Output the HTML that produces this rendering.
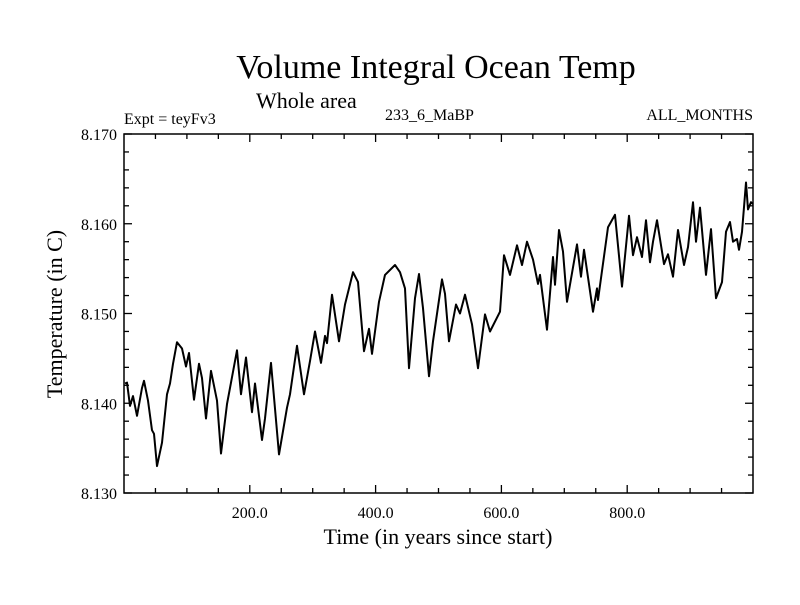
<!DOCTYPE html>
<html><head><meta charset="utf-8"><style>
html,body{margin:0;padding:0;background:#fff;}
svg text{font-family:"Liberation Serif",serif;fill:#000;}
</style></head><body>
<svg id="chart" width="800" height="600" xmlns="http://www.w3.org/2000/svg">
<text x="436" y="78" font-size="34" text-anchor="middle">Volume Integral Ocean Temp</text>
<text x="256" y="108" font-size="22">Whole area</text>
<text x="124" y="124" font-size="16">Expt = teyFv3</text>
<text x="385" y="120" font-size="16">233_6_MaBP</text>
<text x="753" y="120" font-size="16" text-anchor="end">ALL_MONTHS</text>
<text x="438" y="544" font-size="22" text-anchor="middle">Time (in years since start)</text>
<text transform="translate(62,314) rotate(-90)" font-size="22" text-anchor="middle">Temperature (in C)</text>
<g id="axes"></g>
<path id="series" fill="none" stroke="#000" stroke-width="2" stroke-linejoin="round"/>
</svg>
<script>
const years=[1.6,4.8,9.5,14.3,20.7,28.6,31.8,38.2,44.5,47.7,52.5,60.4,68.4,73.1,77.9,84.3,92.2,98.6,103.3,111.3,119.2,124.0,130.4,138.3,147.9,154.2,163.7,179.6,186.0,194.0,203.5,208.3,219.4,224.2,233.7,246.4,259.1,263.9,275.0,286.2,295.7,303.7,313.2,319.5,322.7,330.7,341.8,351.3,364.1,372.0,381.6,389.5,394.3,405.4,414.9,430.8,438.8,446.7,453.1,462.6,469.0,475.4,484.9,491.3,505.6,510.3,516.7,527.8,534.2,542.1,553.3,562.8,573.9,581.9,597.8,604.1,613.7,624.8,632.7,640.7,650.2,658.2,661.3,672.5,682.0,685.2,691.6,697.9,704.3,720.2,726.5,731.3,745.6,752.0,753.6,769.5,780.6,791.7,802.9,809.2,815.6,823.5,829.9,836.2,841.0,847.4,858.5,864.9,872.8,880.8,890.3,896.7,904.6,909.4,915.7,925.3,933.2,941.2,950.7,957.1,963.4,968.2,974.5,977.7,982.5,988.9,992.0,996.8,1000];
const temps=[8.1422,8.1423,8.1397,8.1408,8.1386,8.1417,8.1425,8.1403,8.1370,8.1366,8.1330,8.1356,8.1410,8.1422,8.1444,8.1468,8.1461,8.1441,8.1456,8.1404,8.1444,8.1428,8.1383,8.1436,8.1403,8.1344,8.1399,8.1459,8.1410,8.1451,8.1390,8.1422,8.1359,8.1383,8.1445,8.1343,8.1395,8.1410,8.1464,8.1410,8.1447,8.1480,8.1445,8.1475,8.1467,8.1521,8.1469,8.1510,8.1546,8.1535,8.1458,8.1483,8.1455,8.1513,8.1543,8.1554,8.1546,8.1528,8.1439,8.1517,8.1544,8.1506,8.1430,8.1469,8.1538,8.1522,8.1469,8.1510,8.1500,8.1521,8.1488,8.1439,8.1499,8.1480,8.1502,8.1565,8.1543,8.1576,8.1554,8.1580,8.1560,8.1533,8.1543,8.1482,8.1563,8.1532,8.1593,8.1569,8.1513,8.1577,8.1541,8.1571,8.1502,8.1528,8.1515,8.1596,8.1610,8.1530,8.1609,8.1565,8.1585,8.1563,8.1604,8.1557,8.1580,8.1604,8.1555,8.1566,8.1541,8.1593,8.1554,8.1574,8.1624,8.1580,8.1618,8.1543,8.1594,8.1517,8.1535,8.1591,8.1602,8.1580,8.1583,8.1571,8.1591,8.1646,8.1616,8.1624,8.1622];
const xTickValues=[200,400,600,800];
const xTickLabels=["200.0","400.0","600.0","800.0"];
const yTickValues=[8.13,8.14,8.15,8.16,8.17];
const yTickLabels=["8.130","8.140","8.150","8.160","8.170"];

const L=124,R=753,T=134,B=493,X0=0,X1=1000,Y0=8.13,Y1=8.17;
function sx(v){return L+(v-X0)/(X1-X0)*(R-L);}
function sy(v){return B-(v-Y0)/(Y1-Y0)*(B-T);}
const NS="http://www.w3.org/2000/svg";
const axes=document.getElementById('axes');
function line(x1,y1,x2,y2,name){const l=document.createElementNS(NS,'line');
l.setAttribute('x1',x1);l.setAttribute('y1',y1);l.setAttribute('x2',x2);l.setAttribute('y2',y2);
l.setAttribute('stroke','#000');l.setAttribute('stroke-width','1.3');


axes.appendChild(l);}
const frame=document.createElementNS(NS,'rect');
frame.setAttribute('x',L);frame.setAttribute('y',T);frame.setAttribute('width',R-L);frame.setAttribute('height',B-T);
frame.setAttribute('fill','none');frame.setAttribute('stroke','#000');frame.setAttribute('stroke-width','1.5');


axes.appendChild(frame);
for(let v=50;v<X1;v+=50){const x=sx(v);const major=v%200===0;const len=major?8:5;
line(x,B,x,B-len,'x-tick');line(x,T,x,T+len,'x-tick-top');}
for(let v=Y0;v<=Y1+1e-9;v+=0.002){const y=sy(v);const major=Math.abs(Math.round(v*1000)%10)===0;const len=major?8:5;
line(L,y,L+len,y,'y-tick');line(R,y,R-len,y,'y-tick-right');}
xTickValues.forEach((v,i)=>{const t=document.createElementNS(NS,'text');
t.setAttribute('x',sx(v));t.setAttribute('y',B+25);t.setAttribute('font-size','16');t.setAttribute('text-anchor','middle');
t.textContent=xTickLabels[i];


axes.appendChild(t);});
yTickValues.forEach((v,i)=>{const t=document.createElementNS(NS,'text');
t.setAttribute('x',L-7);t.setAttribute('y',sy(v)+6);t.setAttribute('font-size','16');t.setAttribute('text-anchor','end');
t.textContent=yTickLabels[i];


axes.appendChild(t);});
let d='';years.forEach((v,i)=>{d+=(i?'L':'M')+sx(v).toFixed(1)+' '+sy(temps[i]).toFixed(1);});
document.getElementById('series').setAttribute('d',d);
</script>
</body></html>
